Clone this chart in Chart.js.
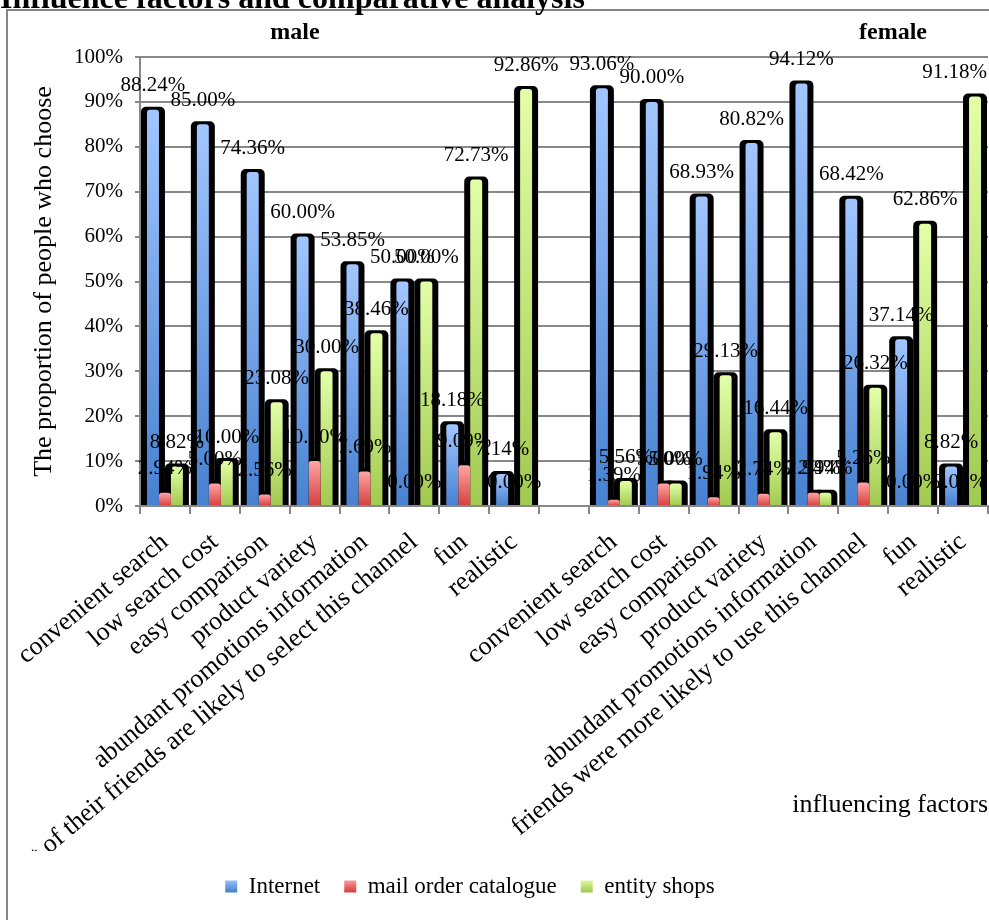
<!DOCTYPE html>
<html>
<head>
<meta charset="utf-8">
<title>Influence factors and comparative analysis</title>
<script src="https://cdn.jsdelivr.net/npm/chart.js@4.4.1/dist/chart.umd.min.js"></script>
<style>
  html, body { margin: 0; padding: 0; background: #fff; }
</style>
</head>
<body>
<canvas id="factorsChart" width="989" height="920"></canvas>
<script>
// male factors, one empty slot, then female factors
var factorLabels = [
    'convenient search', 'low search cost', 'easy comparison', 'product variety',
    'abundant promotions information', 'most of their friends are likely to select this channel',
    'fun', 'realistic',
    '',
    'convenient search', 'low search cost', 'easy comparison', 'product variety',
    'abundant promotions information', 'friends were more likely to use this channel',
    'fun', 'realistic'
];
var seriesNames = ['Internet', 'mail order catalogue', 'entity shops'];

var internetShare  = [88.24, 85.00, 74.36, 60.00, 53.85, 50.00, 18.18, 7.14, null,
                      93.06, 90.00, 68.93, 80.82, 94.12, 68.42, 37.14, 8.82];
var catalogueShare = [2.94, 5.00, 2.56, 10.00, 7.69, 0.00, 9.09, 0.00, null,
                      1.39, 5.00, 1.94, 2.74, 2.94, 5.26, 0.00, 0.00];
var shopShare      = [8.82, 10.00, 23.08, 30.00, 38.46, 50.00, 72.73, 92.86, null,
                      5.56, 5.00, 29.13, 16.44, 2.94, 26.32, 62.86, 91.18];

var yMax = 100;
var yStep = 10;

var SERIF = '"Liberation Serif", "Times New Roman", serif';

// light top -> dark bottom, per column
function columnFill(topColor, bottomColor) {
    return function(c) {
        var y = c.chart.scales.y;
        if (c.type !== 'data' || !y || c.raw === null) return bottomColor;
        var y0 = y.getPixelForValue(c.raw);
        var y1 = y.getPixelForValue(0);
        if (!isFinite(y0) || y1 - y0 < 1) return bottomColor;
        var g = c.chart.ctx.createLinearGradient(0, y0, 0, y1);
        g.addColorStop(0, topColor);
        g.addColorStop(1, bottomColor);
        return g;
    };
}

var palette = [
    ['#a2c6ff', '#4781d0'],
    ['#ffa5a5', '#d63f3d'],
    ['#e3ffa8', '#a1ca50']
];

// black side faces behind the columns, value labels on top
var columnDecor = {
    id: 'columnDecor',
    beforeDraw: function(chart) {
        var ctx = chart.ctx;
        ctx.save();
        ctx.fillStyle = '#fff';
        ctx.fillRect(0, 0, chart.width, chart.height);
        ctx.strokeStyle = '#858585';
        ctx.lineWidth = 2;
        ctx.strokeRect(7, 10, chart.width + 20, chart.height + 20);

        ctx.fillStyle = '#000';
        ctx.textBaseline = 'alphabetic';
        ctx.textAlign = 'left';
        ctx.font = 'bold 32px ' + SERIF;
        ctx.fillText('Influence factors and comparative analysis', 0, 8);

        ctx.textAlign = 'center';
        ctx.font = 'bold 24px ' + SERIF;
        ctx.fillText('male', 295, 39);
        ctx.fillText('female', 893, 39);
        ctx.restore();
    },
    beforeDatasetsDraw: function(chart) {
        var ctx = chart.ctx;
        ctx.save();
        ctx.fillStyle = '#000';
        chart.data.datasets.forEach(function(ds, i) {
            chart.getDatasetMeta(i).data.forEach(function(bar, j) {
                var v = ds.data[j];
                if (!v) return;
                var half = bar.width / 2;
                ctx.beginPath();
                ctx.roundRect(bar.x - half - 6, bar.y - 3, bar.width + 12, bar.base - bar.y + 3, [5, 5, 0, 0]);
                ctx.fill();
            });
        });
        ctx.restore();
    },
    afterDatasetsDraw: function(chart) {
        var ctx = chart.ctx;
        ctx.save();
        ctx.font = '21px ' + SERIF;
        ctx.fillStyle = '#000';
        ctx.textAlign = 'center';
        ctx.textBaseline = 'middle';
        chart.data.datasets.forEach(function(ds, i) {
            chart.getDatasetMeta(i).data.forEach(function(bar, j) {
                var v = ds.data[j];
                if (v === null) return;
                var text = v.toFixed(2) + '%';
                var halfW = ctx.measureText(text).width / 2;
                // keep labels inside the canvas at the right edge
                var x = Math.min(bar.x, chart.width - halfW - 2);
                ctx.fillText(text, x, bar.y - 24);
            });
        });
        ctx.restore();
    },
    afterLayout: function(chart) {
        // legend sits a little left of centre
        chart.legend.left -= 24;
        chart.legend.right -= 24;
    }
};

var datasets = [internetShare, catalogueShare, shopShare].map(function(values, i) {
    return {
        label: seriesNames[i],
        data: values,
        backgroundColor: columnFill(palette[i][0], palette[i][1]),
        borderWidth: 0,
        borderRadius: { topLeft: 3, topRight: 3, bottomLeft: 0, bottomRight: 0 },
        borderSkipped: false,
        barPercentage: 1,
        categoryPercentage: 0.72
    };
});

Chart.defaults.font.family = SERIF;
Chart.defaults.color = '#000';

new Chart(document.getElementById('factorsChart'), {
    type: 'bar',
    data: { labels: factorLabels, datasets: datasets },
    plugins: [columnDecor],
    options: {
        responsive: false,
        animation: false,
        layout: { padding: { top: 57, right: 1, bottom: 12, left: 0 } },
        plugins: {
            tooltip: { enabled: false },
            legend: {
                position: 'bottom',
                labels: {
                    boxWidth: 12,
                    boxHeight: 12,
                    padding: 24,
                    font: { size: 23 },
                    color: '#000',
                    generateLabels: function(chart) {
                        return chart.data.datasets.map(function(ds, i) {
                            var g = chart.ctx.createLinearGradient(0, 879, 0, 892);
                            g.addColorStop(0, palette[i][0]);
                            g.addColorStop(1, palette[i][1]);
                            return {
                                text: ds.label,
                                fillStyle: g,
                                strokeStyle: 'rgba(0,0,0,0)',
                                lineWidth: 0,
                                datasetIndex: i,
                                fontColor: '#000'
                            };
                        });
                    }
                }
            }
        },
        scales: {
            x: {
                offset: true,
                grid: {
                    offset: true,
                    drawOnChartArea: false,
                    drawTicks: true,
                    tickLength: 8,
                    color: '#888',
                    lineWidth: 2
                },
                border: { color: '#888', width: 2 },
                ticks: {
                    autoSkip: false,
                    minRotation: 40,
                    maxRotation: 40,
                    padding: 13,
                    font: { size: 26 }
                },
                title: {
                    display: true,
                    text: 'influencing factors',
                    align: 'end',
                    font: { size: 26 },
                    padding: { top: 0, bottom: 30 }
                },
                afterFit: function(s) {
                    // long rotated labels may run off the canvas; keep the plot full width
                    s.height = 345;
                    s.paddingLeft = 0;
                    s.paddingRight = 0;
                }
            },
            y: {
                min: 0,
                max: yMax,
                grid: { color: '#888', lineWidth: 2, tickLength: 5 },
                border: { color: '#888', width: 2 },
                ticks: {
                    stepSize: yStep,
                    padding: 12,
                    font: { size: 21 },
                    callback: function(v) { return v + '%'; }
                },
                title: {
                    display: true,
                    text: 'The proportion of people who choose',
                    font: { size: 26 },
                    padding: { top: 29, bottom: 0 }
                },
                afterFit: function(s) { s.width = 140; }
            }
        }
    }
});
</script>
</body>
</html>
